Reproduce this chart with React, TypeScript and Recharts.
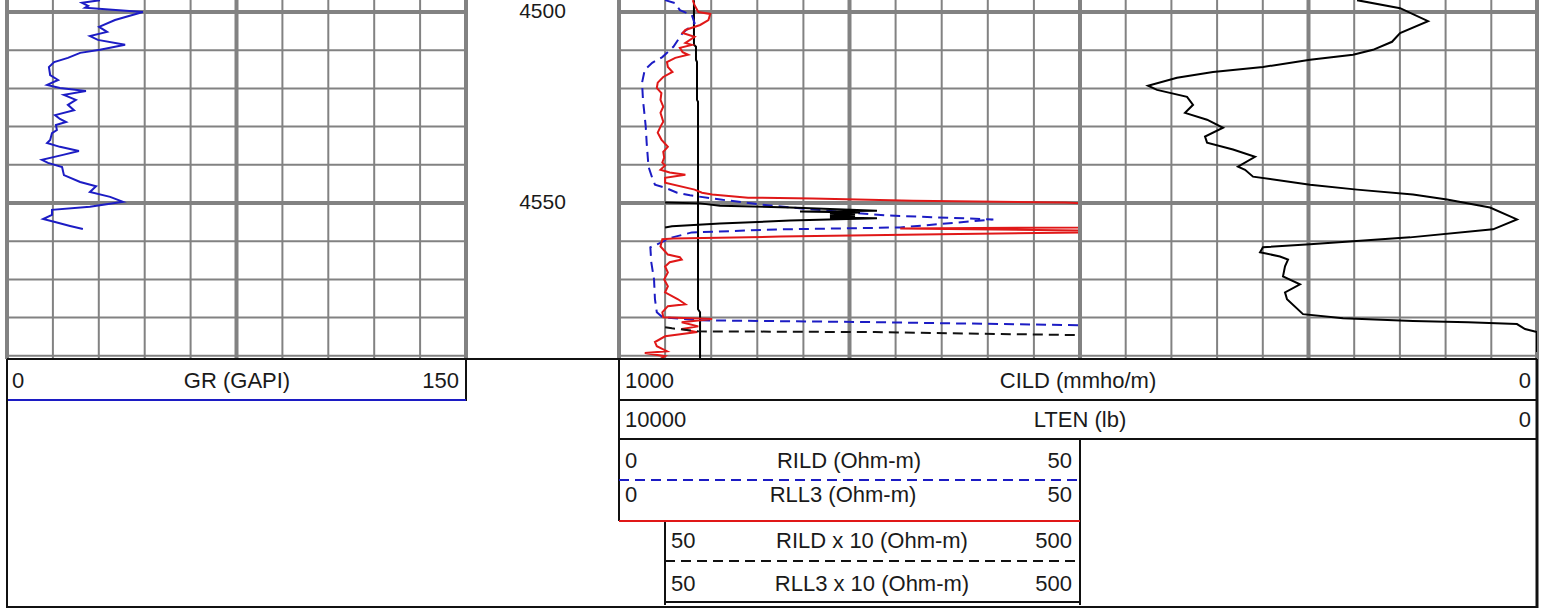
import React from 'react';
import { ScatterChart, Scatter, XAxis, YAxis, ReferenceLine } from 'recharts';

// depth window shown in the picture (ft)
const DEPTH_TOP = 4496.86;
const DEPTH_BOTTOM = 4590.84;

const depthTicks = [4500, 4510, 4520, 4530, 4540, 4550, 4560, 4570, 4580, 4590];
const depthMajor = [4500, 4550];
const depthLabels = [4500, 4550];

const grTicks = [0, 15, 30, 45, 60, 75, 90, 105, 120, 135, 150];
const grMajor = [0, 75, 150];
const resTicks = [0, 5, 10, 15, 20, 25, 30, 35, 40, 45, 50];
const resMajor = [0, 25, 50];
const cildTicks = [0, 50, 100, 150, 200, 250, 300, 350, 400, 450, 500];
const cildMajor = [0, 250, 500];

// [depth, value]
const GR: [number, number][] = [
  [4496.9, 30.4], [4497.6, 24.5], [4498.4, 26.5], [4498.9, 25.5], [4500.0, 44.4], [4502.1, 35.3],
  [4503.9, 30.1], [4505.2, 32.7], [4506.3, 27.1], [4507.3, 29.7], [4508.6, 38.6], [4509.9, 30.4],
  [4510.7, 23.9], [4512.0, 19.9], [4513.1, 15.4], [4514.4, 13.7], [4516.5, 14.1], [4517.8, 16.7],
  [4519.1, 13.1], [4519.9, 17.3], [4520.7, 25.8], [4521.7, 18.6], [4523.0, 22.5], [4524.3, 19.9],
  [4525.7, 21.9], [4527.0, 15.7], [4528.0, 17.3], [4528.8, 19.3], [4529.6, 16.0], [4530.9, 16.3],
  [4531.7, 14.7], [4533.5, 14.1], [4534.3, 13.1], [4535.3, 17.3], [4536.4, 23.5], [4537.4, 18.3],
  [4538.7, 11.4], [4539.5, 13.4], [4540.6, 18.0], [4542.7, 18.6], [4544.5, 23.9], [4545.6, 29.1],
  [4547.1, 27.1], [4548.4, 33.7], [4549.7, 37.9], [4551.0, 27.1], [4551.8, 14.7], [4553.1, 14.7],
  [4554.2, 11.8], [4555.0, 15.7], [4556.0, 20.6], [4556.8, 24.8],
];

const RLL3: [number, number][] = [
  [4496.9, 8.0], [4498.2, 8.2], [4500.0, 8.6], [4500.5, 9.9], [4502.1, 9.7], [4503.4, 8.8], [4504.7, 7.2],
  [4505.5, 6.9], [4506.5, 8.2], [4508.1, 7.2], [4508.6, 7.9], [4509.4, 6.6], [4510.5, 6.9], [4511.2, 7.5],
  [4512.0, 6.1], [4513.1, 5.2], [4514.4, 5.3], [4515.7, 5.8], [4517.0, 4.8], [4518.5, 4.2], [4519.9, 4.1],
  [4521.2, 4.6], [4523.0, 4.5], [4524.8, 4.8], [4526.4, 4.5], [4528.7, 4.8], [4530.0, 4.5], [4531.6, 4.2],
  [4533.4, 4.6], [4535.3, 5.3], [4536.6, 4.8], [4538.1, 4.9], [4539.4, 4.7], [4540.2, 5.0], [4541.3, 4.5],
  [4542.0, 5.5], [4542.6, 7.2], [4543.4, 5.0], [4544.7, 5.0], [4546.5, 8.2], [4547.3, 9.0], [4547.8, 10.1],
  [4548.6, 14.0], [4548.8, 21.0], [4549.4, 31.9], [4549.9, 48.4], [4550.1, 50], [4556.4, 50], [4556.7, 30.5],
  [4557.2, 50], [4557.7, 50], [4558.2, 34.8], [4558.8, 17.5], [4559.3, 5.9], [4559.5, 4.7], [4561.4, 4.5],
  [4562.7, 5.0], [4563.5, 5.3], [4564.2, 6.6], [4564.8, 6.8], [4565.5, 5.5], [4566.6, 5.0], [4568.2, 5.3],
  [4570.0, 4.9], [4571.8, 5.3], [4573.4, 5.0], [4575.2, 6.4], [4576.5, 7.2], [4577.0, 5.3], [4578.6, 4.7],
  [4579.9, 4.8], [4580.4, 10.1], [4581.2, 6.8], [4582.3, 8.6], [4583.0, 6.8], [4583.8, 8.5], [4584.9, 5.0],
  [4586.4, 3.9], [4587.5, 4.1], [4588.8, 5.2], [4589.3, 2.8], [4590.1, 5.0], [4590.8, 4.5],
];

const RILD: [number, number][] = [
  [4496.9, 5.0], [4497.7, 6.1], [4499.5, 6.6], [4500.8, 7.9], [4502.9, 8.2], [4505.5, 6.9], [4509.1, 5.9],
  [4511.8, 4.7], [4513.3, 3.6], [4515.1, 2.8], [4518.5, 2.5], [4523.0, 2.6], [4530.0, 2.9], [4534.2, 3.0],
  [4540.5, 3.2], [4543.4, 3.6], [4545.2, 3.9], [4546.0, 5.0], [4547.3, 6.3], [4548.0, 7.7], [4549.1, 11.0],
  [4550.4, 15.3], [4551.4, 19.6], [4552.5, 25.1], [4553.3, 29.4], [4554.3, 40.6], [4556.4, 30.5],
  [4556.9, 17.5], [4557.7, 7.9], [4559.0, 5.8], [4561.6, 3.4], [4565.5, 3.5], [4570.0, 3.8], [4575.2, 3.9],
  [4578.6, 4.1], [4579.9, 4.7], [4580.7, 8.6], [4581.2, 27.8], [4582.0, 50], [4590.8, 50],
];

const RILD_X10: [number, number][] = [
  [4582.5, 50], [4582.8, 57.5], [4583.6, 85.7], [4583.8, 277.7], [4584.6, 500], [4590.8, 500],
];

const RLL3_X10: [number, number][] = [
  [4549.9, 50], [4550.1, 87.9], [4550.7, 109.5], [4551.2, 185.5], [4552.0, 279.8], [4552.2, 196.3],
  [4552.5, 261.4], [4552.7, 228.8], [4553.0, 256.0], [4553.3, 228.8], [4553.5, 256.0], [4553.8, 228.8],
  [4554.0, 279.8], [4554.6, 185.5], [4555.4, 109.5], [4556.1, 57.5], [4556.4, 50],
];

const LTEN: [number, number][] = [
  [4496.9, 9187], [4508.6, 9187], [4509.1, 9165], [4512.5, 9165], [4513.1, 9154], [4523.0, 9154],
  [4523.5, 9143], [4577.8, 9143], [4578.6, 9121], [4590.8, 9121],
];

const CILD: [number, number][] = [
  [4496.9, 196.9], [4499.0, 149.8], [4502.4, 119.2], [4505.5, 149.8], [4507.8, 158.6], [4509.9, 179.4],
  [4511.2, 201.3], [4512.5, 248.3], [4514.4, 299.8], [4515.7, 354.5], [4517.2, 393.9], [4519.3, 425.6],
  [4520.4, 415.7], [4522.2, 382.9], [4524.3, 376.3], [4526.4, 385.1], [4528.2, 361.0], [4530.3, 343.5],
  [4532.6, 363.2], [4534.2, 361.0], [4536.0, 332.6], [4537.9, 308.5], [4540.5, 327.1], [4541.3, 319.4],
  [4543.1, 310.7], [4545.2, 248.3], [4546.5, 196.9], [4547.8, 135.7], [4549.1, 98.5], [4551.2, 51.4],
  [4554.3, 21.9], [4556.9, 48.1], [4559.0, 138.9], [4560.0, 201.3], [4560.8, 248.3], [4561.6, 299.8],
  [4562.9, 303.0], [4564.0, 281.2], [4564.8, 272.4], [4566.6, 275.7], [4569.2, 277.9], [4571.3, 259.3],
  [4573.4, 275.7], [4575.2, 273.5], [4579.1, 256.0], [4580.2, 212.2], [4580.9, 135.7], [4581.2, 75.5],
  [4581.7, 21.9], [4583.0, 13.1], [4583.8, 0], [4589.0, 0],
];

const pts = (arr: [number, number][]) => arr.map(([d, v]) => ({ d, v }));

const GRID = '#828282';
const BLUE = '#1c1cc4';
const RED = '#e01818';
const INK = '#1a1a1a';
const FONT = "'Liberation Sans', Arial, sans-serif";
const DASH = '10 6';

const H = 359; // bottom of the log tracks
const M = 4; // room for the thick border strokes

const NoDot = () => <g />;

const grid = (xId: string, xTicks: number[], xMajor: number[]) => [
  ...depthTicks.map((d) => (
    <ReferenceLine key={'h' + d} y={d} xAxisId={xId} stroke={GRID} strokeWidth={depthMajor.includes(d) ? 4 : 2} />
  )),
  ...xTicks.map((v) => (
    <ReferenceLine key={'v' + v} x={v} xAxisId={xId} stroke={GRID} strokeWidth={xMajor.includes(v) ? 4 : 2} />
  )),
];

const curve = (key: string, data: [number, number][], xId: string, color: string, dash?: string) => (
  <Scatter
    key={key}
    name={key}
    data={pts(data)}
    xAxisId={xId}
    fill={color}
    line={{ stroke: color, strokeWidth: 2, strokeDasharray: dash }}
    shape={NoDot}
    isAnimationActive={false}
  />
);

const depthAxis = (
  <YAxis type="number" dataKey="d" domain={[DEPTH_TOP, DEPTH_BOTTOM]} reversed hide allowDataOverflow />
);

const boxStyle = (left: number, width: number): React.CSSProperties => ({
  position: 'absolute',
  left: left - M,
  top: 0,
  width: width + 2 * M,
  height: H + M,
});

const margin = { top: 0, right: M, bottom: M, left: M };

const DepthLabel = (p: any) => (
  <text x={p.cx} y={p.cy + 6} textAnchor="middle" fontSize={21} fontFamily={FONT} fill={INK}>
    {p.payload.d}
  </text>
);

function Header() {
  const t = (x: number, y: number, s: string, anchor: 'start' | 'middle' | 'end' = 'start') => (
    <text x={x} y={y} textAnchor={anchor} fontSize={22} fontFamily={FONT} fill={INK}>
      {s}
    </text>
  );
  return (
    <svg width={1548} height={610} style={{ position: 'absolute', left: 0, top: 0, pointerEvents: 'none' }}>
      <line x1={7} x2={1537} y1={359} y2={359} stroke="#111" strokeWidth={2} />
      {/* GR */}
      <line x1={466} x2={466} y1={359} y2={401} stroke="#111" strokeWidth={2} />
      <line x1={7} x2={466} y1={400} y2={400} stroke={BLUE} strokeWidth={2} />
      {t(12, 388, '0')}
      {t(237, 388, 'GR (GAPI)', 'middle')}
      {t(459, 388, '150', 'end')}
      {/* CILD / LTEN */}
      <line x1={619} x2={619} y1={359} y2={521} stroke="#111" strokeWidth={2} />
      <line x1={619} x2={1537} y1={400} y2={400} stroke="#111" strokeWidth={2} />
      <line x1={619} x2={1537} y1={439} y2={439} stroke="#111" strokeWidth={2} />
      {t(625, 388, '1000')}
      {t(1078, 388, 'CILD (mmho/m)', 'middle')}
      {t(1531, 388, '0', 'end')}
      {t(625, 427, '10000')}
      {t(1080, 427, 'LTEN (lb)', 'middle')}
      {t(1531, 427, '0', 'end')}
      {/* resistivity */}
      <line x1={1080} x2={1080} y1={439} y2={605} stroke="#111" strokeWidth={2} />
      <line x1={665} x2={665} y1={521} y2={605} stroke="#111" strokeWidth={2} />
      <line x1={619} x2={1080} y1={480} y2={480} stroke={BLUE} strokeWidth={2} strokeDasharray={DASH} />
      <line x1={619} x2={1080} y1={521} y2={521} stroke={RED} strokeWidth={2} />
      <line x1={665} x2={1080} y1={561} y2={561} stroke="#111" strokeWidth={2} strokeDasharray={DASH} />
      <line x1={665} x2={1080} y1={602} y2={602} stroke="#111" strokeWidth={2} />
      {t(625, 468, '0')}
      {t(849, 468, 'RILD (Ohm-m)', 'middle')}
      {t(1072, 468, '50', 'end')}
      {t(625, 502, '0')}
      {t(843, 502, 'RLL3 (Ohm-m)', 'middle')}
      {t(1072, 502, '50', 'end')}
      {t(671, 548, '50')}
      {t(872, 548, 'RILD x 10 (Ohm-m)', 'middle')}
      {t(1072, 548, '500', 'end')}
      {t(671, 591, '50')}
      {t(872, 591, 'RLL3 x 10 (Ohm-m)', 'middle')}
      {t(1072, 591, '500', 'end')}
      {/* outer frame */}
      <line x1={7} x2={7} y1={359} y2={608} stroke="#111" strokeWidth={2} />
      <line x1={1537} x2={1537} y1={359} y2={608} stroke="#111" strokeWidth={3} />
      <line x1={6} x2={1538} y1={607} y2={607} stroke="#111" strokeWidth={2} />
    </svg>
  );
}

export default function App() {
  return (
    <div style={{ position: 'absolute', left: 0, top: 0, width: 1548, height: 610, background: '#fff', overflow: 'hidden' }}>
      {/* track 1: gamma ray */}
      <div style={boxStyle(7, 459)}>
        <ScatterChart width={459 + 2 * M} height={H + M} margin={margin}>
          <XAxis xAxisId="gr" type="number" dataKey="v" domain={[0, 150]} hide allowDataOverflow />
          {depthAxis}
          {grid('gr', grTicks, grMajor)}
          {curve('GR', GR, 'gr', BLUE)}
        </ScatterChart>
      </div>

      {/* depth column */}
      <div style={boxStyle(466, 153)}>
        <ScatterChart width={153 + 2 * M} height={H + M} margin={margin}>
          <XAxis xAxisId="dx" type="number" dataKey="v" domain={[-1, 1]} hide />
          <YAxis type="number" dataKey="d" domain={[DEPTH_TOP, DEPTH_BOTTOM]} reversed hide />
          <Scatter
            data={depthLabels.map((d) => ({ d, v: 0 }))}
            xAxisId="dx"
            shape={DepthLabel}
            isAnimationActive={false}
          />
        </ScatterChart>
      </div>

      {/* track 2: resistivity + tension */}
      <div style={boxStyle(619, 461)}>
        <ScatterChart width={461 + 2 * M} height={H + M} margin={margin}>
          <XAxis xAxisId="r" type="number" dataKey="v" domain={[0, 50]} hide allowDataOverflow />
          <XAxis xAxisId="r10" type="number" dataKey="v" domain={[0, 500]} hide allowDataOverflow />
          <XAxis xAxisId="lten" type="number" dataKey="v" domain={[5000, 10000]} reversed hide allowDataOverflow />
          {depthAxis}
          {grid('r', resTicks, resMajor)}
          {curve('LTEN', LTEN, 'lten', '#000')}
          {curve('RILD', RILD, 'r', BLUE, DASH)}
          {curve('RLL3', RLL3, 'r', RED)}
          {curve('RILD x 10', RILD_X10, 'r10', '#111', DASH)}
          {curve('RLL3 x 10', RLL3_X10, 'r10', '#000')}
        </ScatterChart>
      </div>

      {/* track 3: conductivity */}
      <div style={boxStyle(1080, 457)}>
        <ScatterChart width={457 + 2 * M} height={H + M} margin={margin}>
          <XAxis xAxisId="cild" type="number" dataKey="v" domain={[0, 500]} reversed hide allowDataOverflow />
          {depthAxis}
          {grid('cild', cildTicks, cildMajor)}
          {curve('CILD', CILD, 'cild', '#000')}
        </ScatterChart>
      </div>

      <Header />
    </div>
  );
}
